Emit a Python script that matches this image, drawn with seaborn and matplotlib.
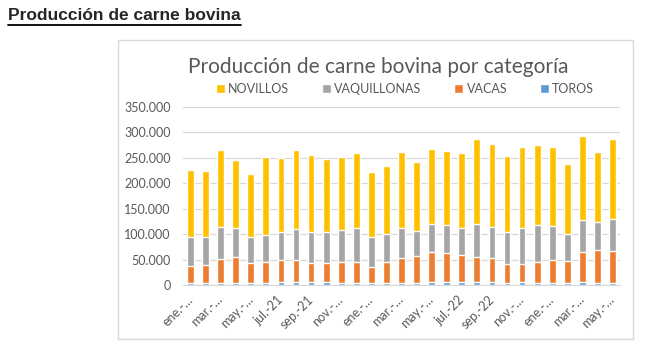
import numpy as np
import pandas as pd
import matplotlib
matplotlib.use("Agg")
import matplotlib.pyplot as plt
from matplotlib.patches import Patch, Rectangle
from matplotlib.lines import Line2D
import seaborn as sns

# Monthly production by category (tonnes), ene-21 .. may-23
months = ["ene.-21", "feb.-21", "mar.-21", "abr.-21", "may.-21", "jun.-21", "jul.-21", "ago.-21",
          "sep.-21", "oct.-21", "nov.-21", "dic.-21", "ene.-22", "feb.-22", "mar.-22", "abr.-22",
          "may.-22", "jun.-22", "jul.-22", "ago.-22", "sep.-22", "oct.-22", "nov.-22", "dic.-22",
          "ene.-23", "feb.-23", "mar.-23", "abr.-23", "may.-23"]
toros = [4000, 3500, 4600, 4000, 3000, 4000, 5000, 6000, 6000, 6000, 4000, 3000, 3000, 4600, 4600,
         3000, 5000, 5000, 5000, 6000, 6600, 4000, 5000, 4000, 4600, 4000, 5000, 4000, 4600]
vacas = [33000, 36500, 47400, 52000, 40000, 42000, 44000, 43000, 38000, 37000, 41000, 42000, 32000,
         40400, 48400, 54000, 60000, 58000, 54000, 49000, 46400, 37000, 36000, 41000, 44400, 43000,
         59000, 64000, 62400]
vaquillonas = [58000, 55000, 62000, 56000, 52000, 53000, 56000, 62000, 61000, 62000, 64000, 67000,
               59000, 56000, 59000, 50000, 55000, 54000, 53000, 64000, 61000, 64000, 71000, 72000,
               67000, 54000, 63000, 56000, 63000]
novillos = [131000, 129000, 151000, 133000, 124000, 152000, 144000, 154000, 150000, 142000, 143000,
            148000, 128000, 133000, 149000, 134000, 147000, 147000, 148000, 169000, 163000, 148000,
            159000, 159000, 156000, 137000, 166000, 138000, 157000]
tick_labels = ["ene.-…", "mar.-…", "may.-…", "jul.-21", "sep.-21", "nov.-…", "ene.-…", "mar.-…",
               "may.-…", "jul.-22", "sep.-22", "nov.-…", "ene.-…", "mar.-…", "may.-…"]

df = pd.DataFrame({"mes": months, "TOROS": toros, "VACAS": vacas,
                   "VAQUILLONAS": vaquillonas, "NOVILLOS": novillos})
order = ["NOVILLOS", "VAQUILLONAS", "VACAS", "TOROS"]
colors = {"NOVILLOS": "#FFC000", "VAQUILLONAS": "#A5A5A5", "VACAS": "#ED7D31", "TOROS": "#5B9BD5"}

# cumulative heights, stacked from the bottom (toros) upward
cum = df[["TOROS", "VACAS", "VAQUILLONAS", "NOVILLOS"]].cumsum(axis=1)

sns.set_style("white")
plt.rcParams["font.family"] = ["Lato", "DejaVu Sans"]

fig = plt.figure(figsize=(6.56, 3.53), dpi=100)
ax = fig.add_axes([183 / 656, 1 - 285 / 353, (620 - 183) / 656, (285 - 107) / 353])

for cat in order:
    sns.barplot(x=df["mes"], y=cum[cat], color=colors[cat], width=0.45,
                saturation=1, ax=ax, order=months)

ax.set_ylim(0, 350000)
ax.set_xlim(-0.5, len(months) - 0.5)
ax.set_yticks(np.arange(0, 350001, 50000))
ax.set_yticklabels([f"{v:,.0f}".replace(",", ".") for v in np.arange(0, 350001, 50000)],
                   fontsize=9, color="#595959")
ax.set_xticks(np.arange(0, len(months), 2))
ax.set_xticklabels(tick_labels, rotation=45, ha="right", va="center", rotation_mode="anchor",
                   fontsize=9, color="#595959")
ax.tick_params(axis="y", length=0, pad=9)
ax.tick_params(axis="x", length=0, pad=9)
ax.set_xlabel("")
ax.set_ylabel("")
ax.yaxis.grid(True, color="#d9d9d9", linewidth=0.9)
ax.set_axisbelow(True)
for s in ["top", "right", "left"]:
    ax.spines[s].set_visible(False)
ax.spines["bottom"].set_color("#d9d9d9")

handles = [Patch(facecolor=colors[c], label=c) for c in order]
fig.legend(handles=handles, loc="center", bbox_to_anchor=(405 / 656, 1 - 89 / 353), ncol=4,
           frameon=False, fontsize=9, handlelength=0.7, handleheight=0.7,
           handletextpad=0.3, columnspacing=2.6, labelcolor="#595959")

fig.text(378 / 656, 1 - 67 / 353, "Producción de carne bovina por categoría",
         ha="center", va="center", fontsize=15, color="#595959")

# chart frame
fig.add_artist(Rectangle((118 / 656, 1 - 339 / 353), (633 - 118) / 656, (339 - 40) / 353,
                         transform=fig.transFigure, fill=False, edgecolor="#d9d9d9", linewidth=1))

# page heading, underlined
fig.text(8 / 656, 1 - 16 / 353, "Producción de carne bovina", ha="left", va="center",
         fontsize=12.5, fontweight="bold", family=["Liberation Sans", "DejaVu Sans"])
fig.add_artist(Line2D([8 / 656, 241 / 656], [1 - 25 / 353, 1 - 25 / 353],
                      transform=fig.transFigure, color="black", linewidth=1.3))

fig.savefig("out.png", dpi=100, facecolor="white")
